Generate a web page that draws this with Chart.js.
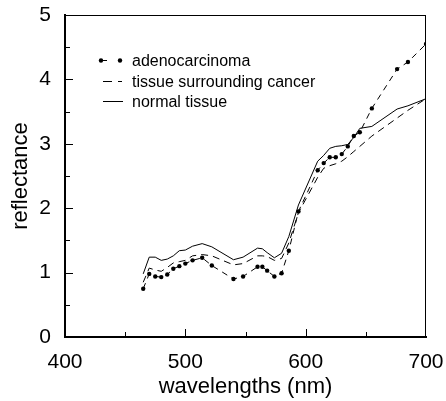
<!DOCTYPE html>
<html>
<head>
<meta charset="utf-8">
<script src="https://cdn.jsdelivr.net/npm/chart.js@4"></script>
<style>
  html, body { margin: 0; padding: 0; background: #fff; }
  #wrap { width: 446px; height: 401px; }
</style>
</head>
<body>
<div id="wrap"><canvas id="myChart" width="446" height="401"></canvas></div>
<script>
const wavelengths = [465, 470, 475, 480, 485, 490, 495, 500, 506, 514, 522, 540, 548, 560, 564, 568, 574, 580, 586, 594, 610, 615, 620, 625, 630, 635, 640, 645, 655, 676, 685, 700];
const adenocarcinoma = [0.75, 0.98, 0.94, 0.93, 0.97, 1.06, 1.10, 1.14, 1.19, 1.23, 1.11, 0.90, 0.94, 1.09, 1.09, 1.03, 0.94, 0.99, 1.34, 1.95, 2.59, 2.70, 2.79, 2.79, 2.84, 2.96, 3.12, 3.18, 3.55, 4.16, 4.27, 4.55];
const surrounding = [0.85, 1.07, 1.04, 1.02, 1.08, 1.15, 1.17, 1.19, 1.26, 1.28, 1.26, 1.12, 1.14, 1.26, 1.26, 1.25, 1.19, 1.22, 1.46, 1.93, 2.48, 2.62, 2.66, 2.69, 2.73, 2.80, 2.88, 2.96, 3.12, 3.40, 3.52, 3.70];
const normal = [0.98, 1.24, 1.24, 1.19, 1.21, 1.26, 1.34, 1.35, 1.41, 1.45, 1.40, 1.20, 1.24, 1.38, 1.37, 1.31, 1.23, 1.30, 1.56, 2.05, 2.73, 2.82, 2.93, 2.96, 2.97, 2.99, 3.10, 3.24, 3.27, 3.54, 3.59, 3.70];

const seriesNames = ['adenocarcinoma', 'tissue surrounding cancer', 'normal tissue'];
const xLabelTicks = [400, 500, 600, 700];
const yLabelTicks = [0, 1, 2, 3, 4, 5];

const FONT = "'Liberation Sans', Arial, Helvetica, sans-serif";

function toPoints(xs, ys) {
    return xs.map((x, i) => ({ x: x, y: ys[i] }));
}

// frame, inward tick marks and the legend inside the plot
const decorations = {
    id: 'decorations',
    afterDraw(chart) {
        const c = chart.ctx;
        const a = chart.chartArea;
        const xs = chart.scales.x;
        const ys = chart.scales.y;
        const L = Math.round(a.left), R = Math.round(a.right);
        const T = Math.round(a.top), B = Math.round(a.bottom);
        c.save();
        c.fillStyle = '#000';
        c.fillRect(L, T, R - L, 1);
        c.fillRect(R - 1, T, 1, B - T);
        for (let v = 450; v < 700; v += 50) {
            const px = Math.round(xs.getPixelForValue(v));
            const len = xLabelTicks.includes(v) ? 8 : 5;
            c.fillRect(px, B - len, 1, len);
        }
        for (let v = 0.5; v < 5; v += 0.5) {
            const py = Math.round(ys.getPixelForValue(v));
            const len = yLabelTicks.includes(v) ? 8 : 5;
            c.fillRect(L, py, len, 1);
        }

        // legend
        const x0 = L + 36;
        const tx = L + 67;
        const rows = [T + 45, T + 66, T + 86];
        c.fillRect(x0, rows[0], 6, 1);
        c.fillRect(x0 + 2, rows[1], 9, 1);
        c.fillRect(x0 + 17, rows[1], 4, 1);
        c.fillRect(x0 + 2, rows[2], 20, 1);
        [x0, x0 + 19].forEach(px => {
            c.beginPath(); c.arc(px, rows[0] + 0.5, 2.2, 0, Math.PI * 2); c.fill();
        });
        c.font = '16px ' + FONT;
        c.textBaseline = 'middle';
        c.textAlign = 'left';
        seriesNames.forEach((name, i) => c.fillText(name, tx, rows[i] + 1.5));
        c.restore();
    }
};

const ctx = document.getElementById('myChart').getContext('2d');
const myChart = new Chart(ctx, {
    type: 'line',
    data: {
        datasets: [{
            label: seriesNames[0],
            data: toPoints(wavelengths, adenocarcinoma),
            borderColor: '#000',
            backgroundColor: '#000',
            borderWidth: 1,
            borderDash: [6, 5],
            pointRadius: 2.2,
            pointBorderWidth: 0,
            pointBackgroundColor: '#000'
        }, {
            label: seriesNames[1],
            data: toPoints(wavelengths, surrounding),
            borderColor: '#000',
            borderWidth: 1,
            borderDash: [7, 5],
            pointRadius: 0
        }, {
            label: seriesNames[2],
            data: toPoints(wavelengths, normal),
            borderColor: '#000',
            borderWidth: 1,
            pointRadius: 0
        }]
    },
    options: {
        responsive: false,
        animation: false,
        layout: { padding: { left: 0, right: 20, top: 15, bottom: 0 } },
        plugins: {
            legend: { display: false },
            tooltip: { enabled: false }
        },
        scales: {
            x: {
                type: 'linear',
                min: 400,
                max: 700,
                grid: { display: true, drawOnChartArea: false, drawTicks: true, tickLength: 13, color: 'rgba(0,0,0,0)' },
                border: { display: true, color: '#000', width: 2 },
                ticks: {
                    stepSize: 50,
                    padding: 0,
                    color: '#000',
                    maxRotation: 0,
                    autoSkip: false,
                    font: { family: FONT, size: 21 },
                    callback: v => xLabelTicks.includes(v) ? String(v) : ''
                },
                title: {
                    display: true,
                    text: 'wavelengths (nm)',
                    color: '#000',
                    font: { family: FONT, size: 22 },
                    padding: { top: 0, bottom: 1 }
                },
                afterFit: scale => { scale.height = 64; }
            },
            y: {
                min: 0,
                max: 5,
                grid: { display: true, drawOnChartArea: false, drawTicks: true, tickLength: 14, color: 'rgba(0,0,0,0)' },
                border: { display: true, color: '#000', width: 2 },
                ticks: {
                    stepSize: 0.5,
                    padding: 0,
                    color: '#000',
                    autoSkip: false,
                    font: { family: FONT, size: 21 },
                    callback: v => yLabelTicks.includes(v) ? String(v) : ''
                },
                title: {
                    display: true,
                    text: 'reflectance',
                    color: '#000',
                    font: { family: FONT, size: 22 },
                    padding: { top: 8, bottom: 0 }
                },
                afterFit: scale => { scale.width = 65; }
            }
        }
    },
    plugins: [decorations]
});
</script>
</body>
</html>
